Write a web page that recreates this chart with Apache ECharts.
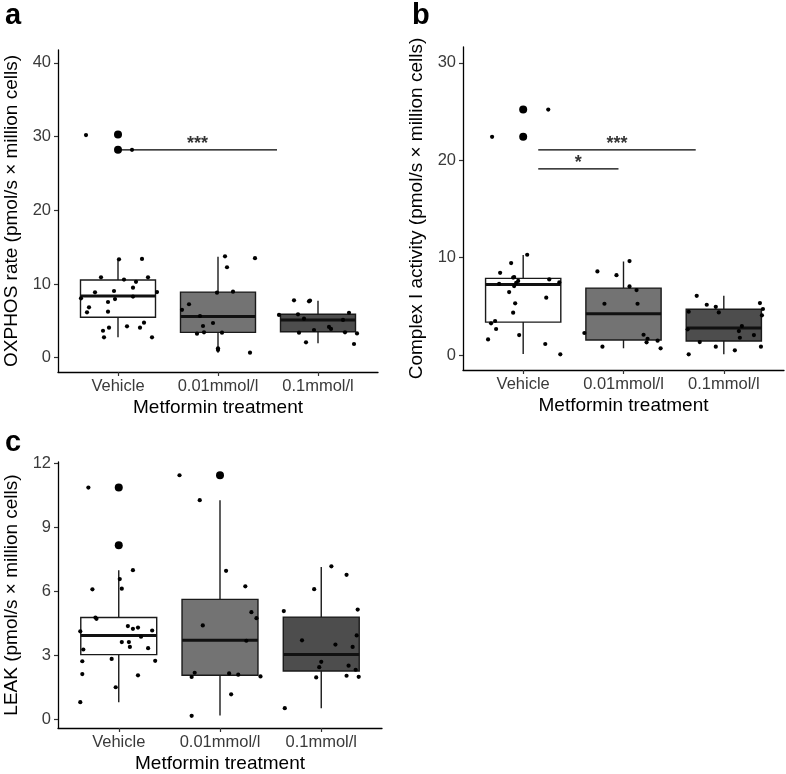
<!DOCTYPE html>
<html><head><meta charset="utf-8">
<script src="https://cdn.jsdelivr.net/npm/echarts@6/dist/echarts.min.js"></script>
<style>html,body{margin:0;padding:0;background:#fff}#c{width:786px;height:774px}</style>
</head><body><div id="c"></div>
<script>
const categories = ['Vehicle', '0.01mmol/l', '0.1mmol/l'];
const xAxisTitle = 'Metformin treatment';

// Panel a: OXPHOS rate — boxes [lowerWhisker, Q1, median, Q3, upperWhisker]
const aBoxes = [[2.77, 5.48, 8.37, 10.54, 13.35], [0.68, 3.44, 5.6, 8.9, 13.7], [1.95, 3.53, 5.12, 5.89, 7.73]];
const aOutliers = [[1, 30.3], [1, 28.2]];
const aPoints = [
  [1.01,13.35],[1.24,13.4],[0.83,10.9],[1.30,10.9],[1.06,10.6],[1.18,10.3],[0.77,8.87],[0.96,9.05],[1.15,9.5],[1.39,8.9],
  [0.63,8.06],[0.97,7.96],[1.15,8.3],[0.90,7.56],[0.71,6.84],[0.69,6.16],[0.90,6.24],[1.09,4.26],[0.91,4.07],[1.26,4.75],
  [1.22,4.07],[0.85,3.66],[0.86,2.77],[1.34,2.77],[0.68,30.2],[1.14,28.2],
  [2.07,13.76],[2.37,13.5],[2.09,12.27],[1.99,8.82],[2.15,8.96],[1.64,6.5],[1.71,7.25],[1.82,5.66],[1.95,4.71],[1.85,4.3],
  [1.79,3.26],[1.86,3.45],[2.04,3.4],[2.0,1.28],[2.0,1.05],[2.32,0.68],
  [2.76,7.79],[2.91,7.65],[2.92,7.75],[2.61,5.8],[2.80,5.89],[2.86,5.3],[3.31,6.1],[3.25,5.12],[3.11,4.17],[3.13,3.9],
  [2.96,3.76],[2.81,3.4],[3.27,3.45],[3.39,3.3],[2.88,2.09],[3.36,1.86]
];
const aTicks = [0, 10, 20, 30, 40];
const aSig = [[1.0, 2.59, 28.2, '***']];

// Panel b: Complex I activity
const bBoxes = [[0.1, 3.38, 7.25, 7.87, 10.26], [0.69, 1.54, 4.24, 6.87, 9.6], [0.07, 1.44, 2.77, 4.7, 6.07]];
const bOutliers = [[1, 25.2], [1, 22.4]];
const bPoints = [
  [0.69,22.4],[1.25,25.2],[1.04,10.29],[0.88,9.44],[0.77,8.44],[0.91,8.0],[0.90,7.95],[0.95,7.6],[0.93,7.4],[0.76,7.3],
  [0.91,7.08],[1.26,7.76],[1.36,7.45],[0.86,6.46],[1.23,5.88],[0.92,5.3],[0.90,4.34],[0.72,3.49],[0.68,3.25],[0.73,2.67],
  [0.96,2.05],[0.65,1.6],[1.22,1.13],[1.37,0.07],
  [2.06,9.64],[1.74,8.58],[1.93,8.2],[2.06,7.04],[2.13,6.67],[1.81,5.26],[2.14,5.26],[1.61,2.26],[2.20,2.08],[2.24,1.67],
  [2.23,1.3],[2.34,1.47],[1.79,0.85],[2.37,0.69],
  [2.73,6.08],[2.83,5.16],[2.92,4.95],[2.95,4.37],[2.65,4.44],[3.36,5.33],[3.39,4.72],[3.38,4.07],[3.18,2.97],[3.15,2.46],
  [3.16,1.77],[3.30,2.05],[2.64,2.64],[2.76,1.33],[2.92,0.85],[3.11,0.48],[3.37,0.85],[2.65,0.07]
];
const bTicks = [0, 10, 20, 30];
const bSig = [[1.15, 2.72, 21.06, '***'], [1.15, 1.95, 19.1, '*']];

// Panel c: LEAK
const cBoxes = [[0.79, 3.02, 3.92, 4.76, 6.98], [0.17, 2.05, 3.69, 5.61, 10.26], [0.51, 2.25, 3.02, 4.78, 7.13]];
const cOutliers = [[1, 10.85], [1, 8.15], [2, 11.43]];
const cPoints = [
  [0.70,10.85],[1.14,6.98],[1.01,6.56],[0.74,6.08],[1.03,6.11],[0.77,4.76],[0.78,4.7],[0.62,4.11],[1.09,4.36],[1.14,4.23],
  [1.19,4.29],[1.33,4.15],[1.22,3.86],[1.03,3.61],[1.10,3.61],[1.11,3.38],[0.65,3.26],[1.29,3.32],[0.93,2.82],[1.36,2.73],
  [0.64,2.71],[0.64,2.11],[1.19,2.05],[0.97,1.49],[0.62,0.79],[1.0,8.15],
  [1.60,11.43],[1.80,10.26],[2.06,6.95],[2.25,6.22],[2.31,5.01],[2.36,4.73],[1.83,4.39],[2.26,3.67],[1.75,2.17],[1.72,1.97],
  [2.09,2.14],[2.18,2.08],[2.40,2.0],[2.11,1.16],[1.72,0.15],
  [3.10,7.16],[3.25,6.76],[2.93,6.09],[3.36,5.13],[2.63,5.06],[2.81,3.69],[3.35,3.92],[3.14,3.49],[3.31,3.38],[3.0,2.68],
  [2.98,2.43],[3.27,2.5],[3.34,2.31],[2.95,1.95],[3.25,2.03],[3.37,1.98],[2.64,0.51]
];
const cTicks = [0, 3, 6, 9, 12];

const fills = ['#ffffff', '#737373', '#4d4d4d'];
const FONT = 'Liberation Sans, Arial, Helvetica, sans-serif';

const panels = [
  {boxes: aBoxes, outliers: aOutliers, points: aPoints, ticks: aTicks, sig: aSig, ymin: -1.94, ymax: 41.75,
   yname: 'OXPHOS rate (pmol/s × million cells)', grid: {left: 58, top: 50, width: 320, height: 322}},
  {boxes: bBoxes, outliers: bOutliers, points: bPoints, ticks: bTicks, sig: bSig, ymin: -1.54, ymax: 31.62,
   yname: 'Complex I activity (pmol/s × million cells)', grid: {left: 463, top: 47, width: 321, height: 323}},
  {boxes: cBoxes, outliers: cOutliers, points: cPoints, ticks: cTicks, sig: [], ymin: -0.42, ymax: 12.05,
   yname: 'LEAK (pmol/s × million cells)', grid: {left: 58, top: 462, width: 324, height: 268}}
];

const option = {
  animation: false,
  backgroundColor: '#fff',
  title: [
    {text: 'a', left: 0, top: -4, textStyle: {fontSize: 29, fontWeight: 'bold', color: '#000', fontFamily: FONT}},
    {text: 'b', left: 407, top: -4, textStyle: {fontSize: 29, fontWeight: 'bold', color: '#000', fontFamily: FONT}},
    {text: 'c', left: 0, top: 423, textStyle: {fontSize: 29, fontWeight: 'bold', color: '#000', fontFamily: FONT}}
  ],
  grid: [], xAxis: [], yAxis: [], series: []
};

panels.forEach((p, i) => {
  option.grid.push(Object.assign({containLabel: false}, p.grid));
  option.xAxis.push({
    type: 'value', gridIndex: i, min: 0.4, max: 3.6,
    name: xAxisTitle, nameLocation: 'middle', nameGap: 26,
    nameTextStyle: {fontSize: 19, color: '#000', fontFamily: FONT},
    splitLine: {show: false},
    axisLine: {show: true, onZero: false, lineStyle: {color: '#000', width: 1.3}},
    axisTick: {show: true, length: 4, customValues: [1, 2, 3], lineStyle: {color: '#333', width: 1.2}},
    axisLabel: {customValues: [1, 2, 3], margin: 6, fontSize: 16.5, color: '#3a3a3a', fontFamily: FONT,
      formatter: v => categories[Math.round(v) - 1]}
  });
  option.yAxis.push({
    type: 'value', gridIndex: i, min: p.ymin, max: p.ymax,
    name: p.yname, nameLocation: 'middle', nameGap: 37, nameRotate: 90,
    nameTextStyle: {fontSize: 19, color: '#000', fontFamily: FONT},
    splitLine: {show: false},
    axisLine: {show: true, onZero: false, lineStyle: {color: '#000', width: 1.3}},
    axisTick: {show: true, length: 4, customValues: p.ticks, lineStyle: {color: '#333', width: 1.2}},
    axisLabel: {customValues: p.ticks, margin: 7, fontSize: 16.5, color: '#3a3a3a', fontFamily: FONT}
  });
  option.series.push({
    type: 'custom', xAxisIndex: i, yAxisIndex: i, z: 2,
    data: p.boxes.map((b, k) => [k + 1].concat(b)),
    encode: {x: 0, y: [1, 2, 3, 4, 5]},
    renderItem: (params, api) => {
      const x = api.value(0), half = 0.375;
      const wl = api.value(1), q1 = api.value(2), med = api.value(3), q3 = api.value(4), wh = api.value(5);
      const tl = api.coord([x - half, q3]), br = api.coord([x + half, q1]);
      const a1 = api.coord([x, wh]), a2 = api.coord([x, q3]), b1 = api.coord([x, q1]), b2 = api.coord([x, wl]);
      const m1 = api.coord([x - half, med]), m2 = api.coord([x + half, med]);
      const ls = {stroke: '#1a1a1a', lineWidth: 1.4};
      return {type: 'group', children: [
        {type: 'line', shape: {x1: a1[0], y1: a1[1], x2: a2[0], y2: a2[1]}, style: ls},
        {type: 'line', shape: {x1: b1[0], y1: b1[1], x2: b2[0], y2: b2[1]}, style: ls},
        {type: 'rect', shape: {x: tl[0], y: tl[1], width: br[0] - tl[0], height: br[1] - tl[1]},
          style: {fill: fills[params.dataIndex], stroke: '#1a1a1a', lineWidth: 1.4}},
        {type: 'line', shape: {x1: m1[0], y1: m1[1], x2: m2[0], y2: m2[1]}, style: {stroke: '#111', lineWidth: 3}}
      ]};
    }
  });
  option.series.push({
    type: 'scatter', xAxisIndex: i, yAxisIndex: i, z: 3, data: p.outliers,
    symbolSize: 8, itemStyle: {color: '#000', opacity: 1}, silent: true
  });
  option.series.push({
    type: 'scatter', xAxisIndex: i, yAxisIndex: i, z: 4, data: p.points,
    symbolSize: 4.2, itemStyle: {color: '#000', opacity: 1}, silent: true
  });
  p.sig.forEach(s => {
    option.series.push({
      type: 'line', xAxisIndex: i, yAxisIndex: i, z: 5, data: [[s[0], s[2]], [s[1], s[2]]],
      symbol: 'none', lineStyle: {color: '#000', width: 1.3}, silent: true
    });
    option.series.push({
      type: 'scatter', xAxisIndex: i, yAxisIndex: i, z: 5, data: [[(s[0] + s[1]) / 2, s[2]]],
      symbolSize: 0, silent: true,
      label: {show: true, position: 'top', distance: -3, formatter: s[3], fontSize: 18, fontWeight: 'bold', color: '#000', fontFamily: FONT}
    });
  });
});

const chart = echarts.init(document.getElementById('c'), null, {renderer: 'canvas'});
chart.setOption(option);
</script>
</body></html>
